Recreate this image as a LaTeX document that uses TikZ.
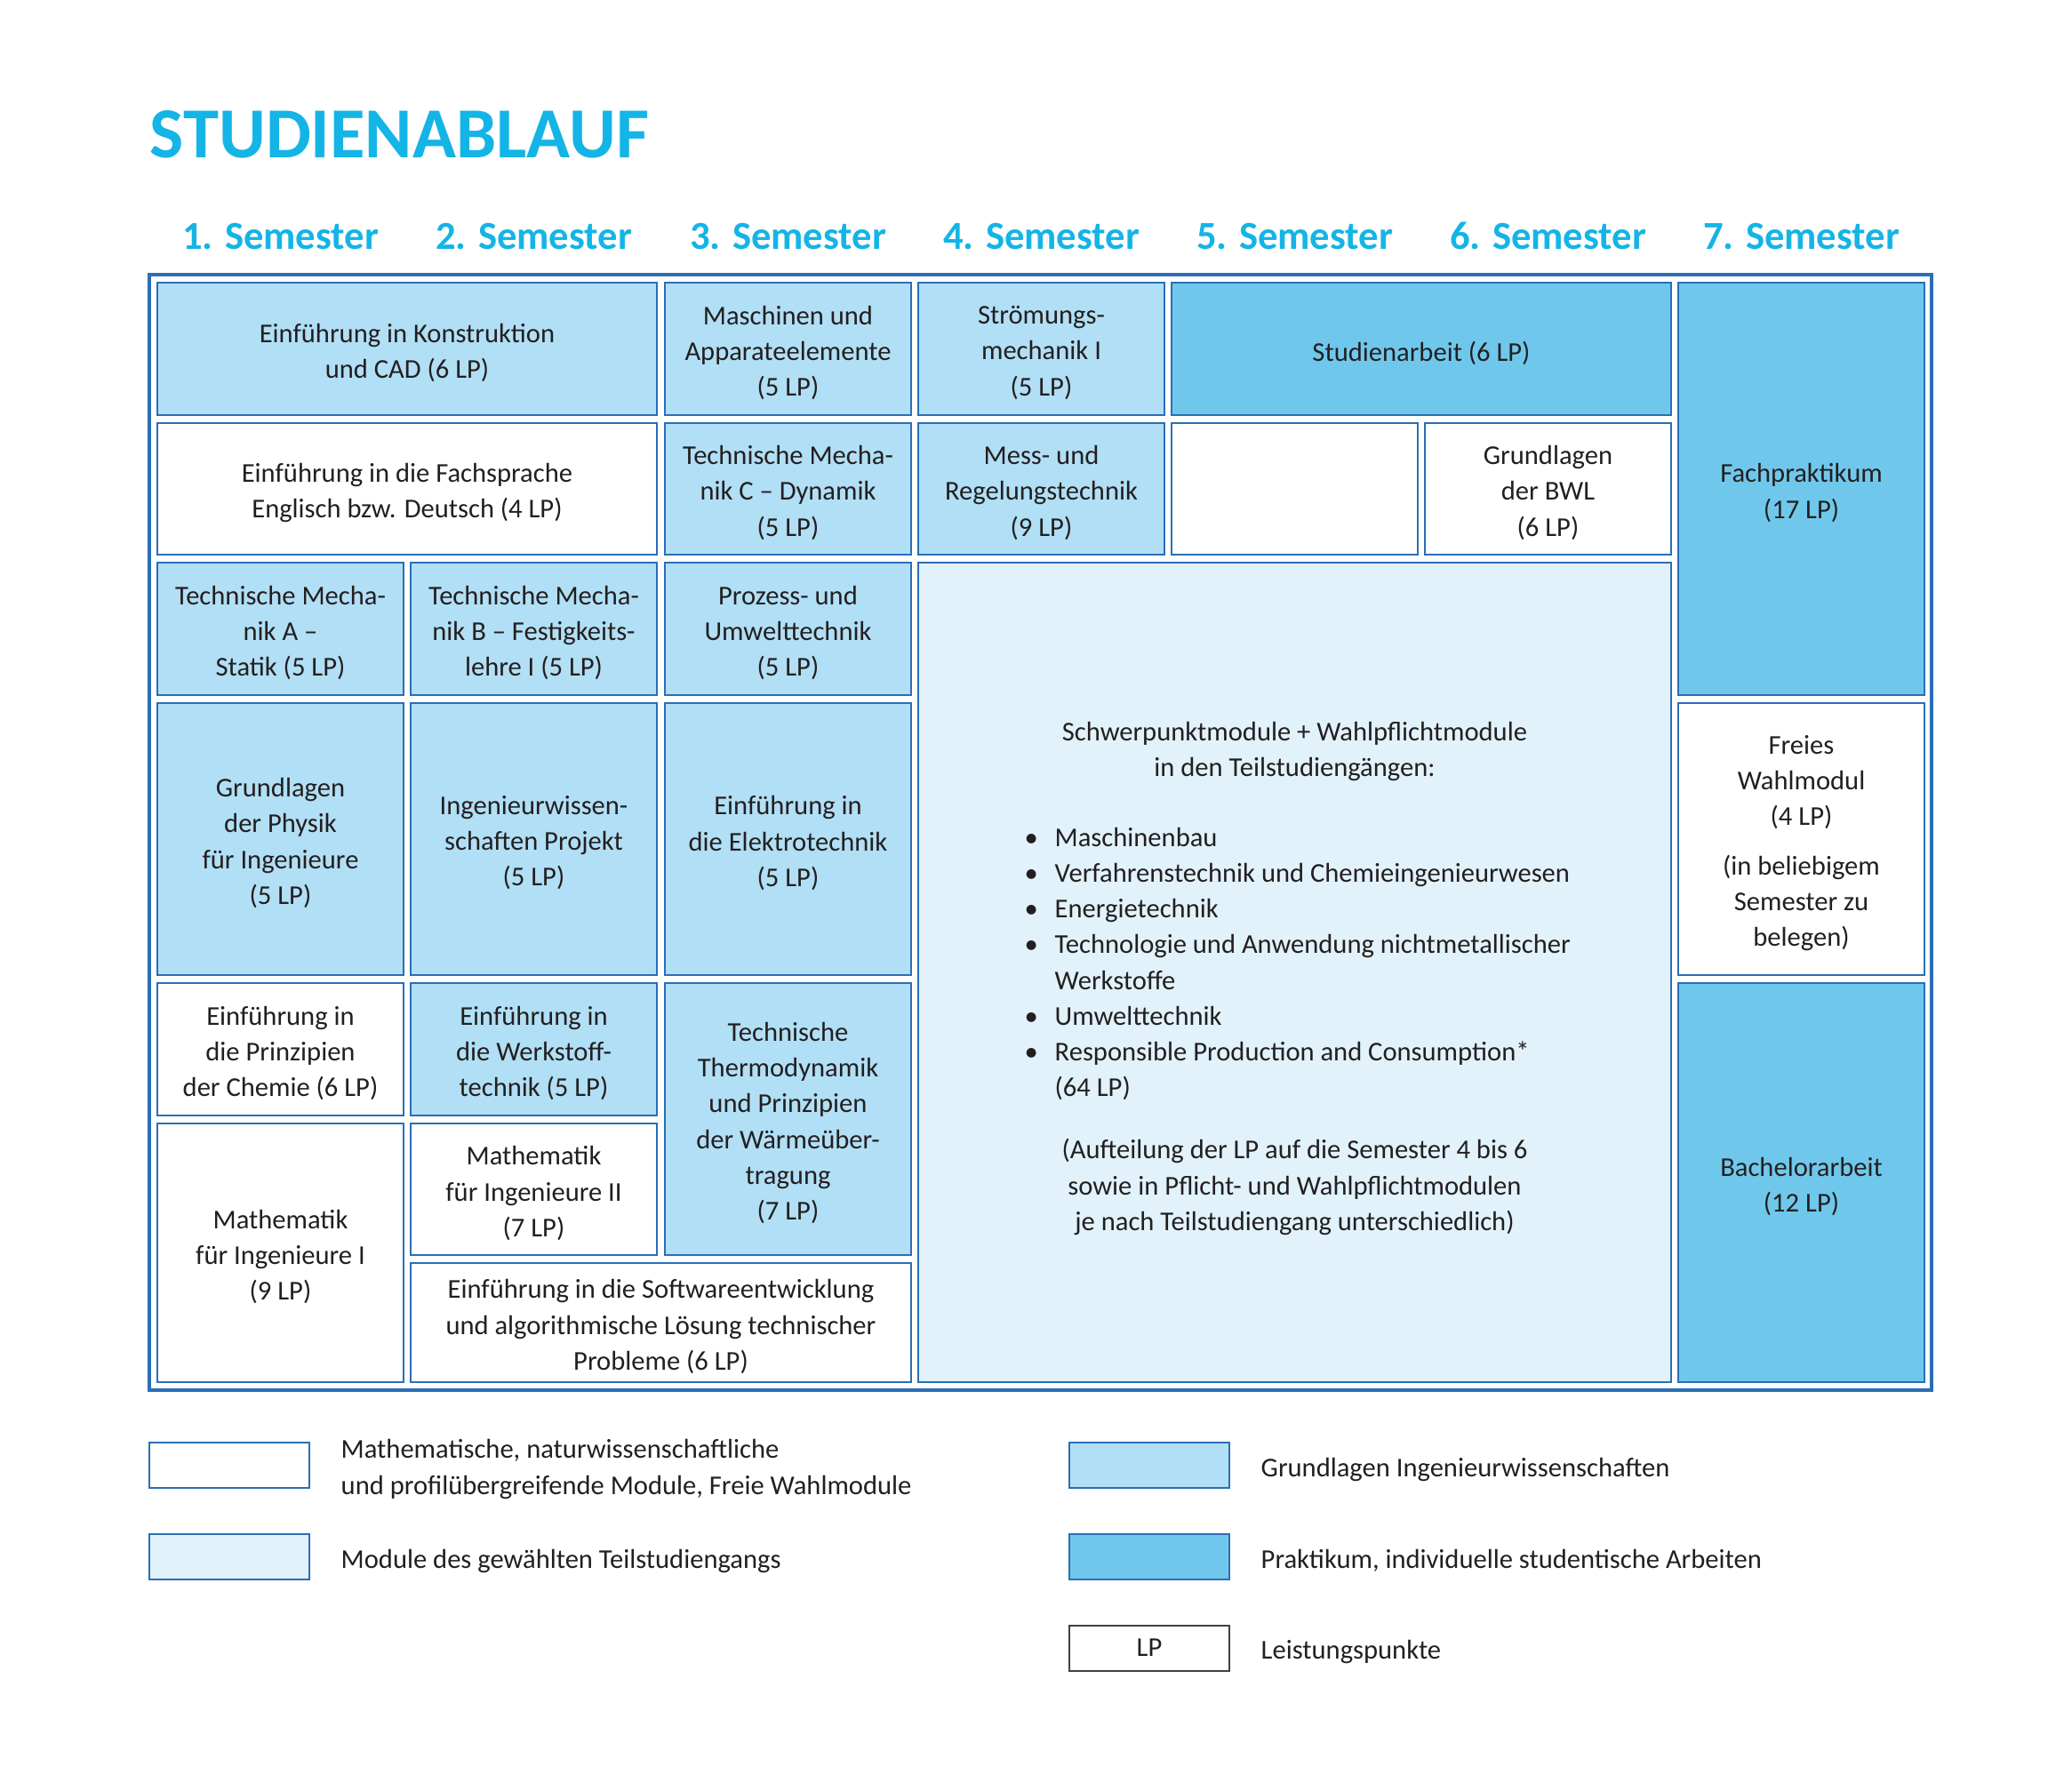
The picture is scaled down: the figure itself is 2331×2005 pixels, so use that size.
\documentclass[tikz,border=0pt]{standalone}
\usepackage{fontspec}
\setmainfont{Carlito}
\usepackage{xcolor}
\usepackage{tikz}
\usetikzlibrary{positioning}

\definecolor{rahmenblau}{HTML}{2A6EB7}
\definecolor{grundblau}{HTML}{B1DFF5}
\definecolor{praktblau}{HTML}{6FC8EC}
\definecolor{teilblau}{HTML}{E1F2FA}
\definecolor{titelcyan}{HTML}{14B4E6}
\definecolor{schrift}{HTML}{231F20}

\newcommand{\modfont}{\fontsize{8.7pt}{11.4pt}\selectfont}
\newcommand{\semfont}{\fontsize{12.7pt}{14pt}\selectfont\bfseries}
\newcommand{\titelfont}{\fontsize{23pt}{24pt}\selectfont\bfseries}
\newcommand{\bul}{\makebox[3.4mm][l]{\textbullet}}

\tikzset{
    modbox/.style={draw=rahmenblau, line width=0.2mm},
    grund/.style={modbox, fill=grundblau},
    prakt/.style={modbox, fill=praktblau},
    teil/.style={modbox, fill=teilblau},
    allg/.style={modbox, fill=white},
    mitte/.style={midway, yshift=-0.45mm},
    semkopf/.style={font=\semfont, text=titelcyan, anchor=base, inner sep=0},
    legbox/.style={minimum width=18mm, minimum height=5.1mm, inner sep=0},
    legtext/.style={align=left, inner sep=0, right=3.4mm of #1, yshift=-0.45mm}
}

\begin{document}
\begin{tikzpicture}[x=0.1mm, y=-0.1mm, every node/.style={font=\modfont, text=schrift, align=center}]
    \useasboundingbox (0,0) rectangle (2331,2005);

    % Titel und Semester
    \node[font=\titelfont, text=titelcyan, anchor=base west, inner sep=0] (titel) at (168,178) {STUDIENABLAUF};
    \foreach \i/\x in {1/315.5, 2/600.5, 3/886.5, 4/1171.5, 5/1456.5, 6/1741.5, 7/2026.5}
        \node[semkopf] (sem\i) at (\x,281) {\i. Semester};

    \draw[rahmenblau, line width=0.35mm] (168,309) rectangle (2173,1564);

    % Zeile 1
    \draw[grund] (177,318) rectangle (739,467) node[mitte] (konstr) {Einführung in Konstruktion\\und CAD (6 LP)};
    \draw[grund] (748,318) rectangle (1025,467) node[mitte] (maschinen) {Maschinen und\\Apparateelemente\\(5 LP)};
    \draw[grund] (1033,318) rectangle (1310,467) node[mitte] (stroemung) {Strömungs-\\mechanik I\\(5 LP)};
    \draw[prakt] (1318,318) rectangle (1880,467) node[mitte] (studienarbeit) {Studienarbeit (6 LP)};
    \draw[prakt] (1888,318) rectangle (2165,782) node[mitte] (fachpraktikum) {Fachpraktikum\\(17 LP)};

    % Zeile 2
    \draw[allg] (177,476) rectangle (739,624) node[mitte] (fachsprache) {Einführung in die Fachsprache\\Englisch bzw. Deutsch (4 LP)};
    \draw[grund] (748,476) rectangle (1025,624) node[mitte] (tmC) {Technische Mecha-\\nik C – Dynamik\\(5 LP)};
    \draw[grund] (1033,476) rectangle (1310,624) node[mitte] (messreg) {Mess- und\\Regelungstechnik\\(9 LP)};
    \draw[allg] (1318,476) rectangle (1595,624);
    \draw[allg] (1603,476) rectangle (1880,624) node[mitte] (bwl) {Grundlagen\\der BWL\\(6 LP)};

    % Zeile 3
    \draw[grund] (177,633) rectangle (454,782) node[mitte] (tmA) {Technische Mecha-\\nik A –\\Statik (5 LP)};
    \draw[grund] (462,633) rectangle (739,782) node[mitte] (tmB) {Technische Mecha-\\nik B – Festigkeits-\\lehre I (5 LP)};
    \draw[grund] (748,633) rectangle (1025,782) node[mitte] (prozess) {Prozess- und\\Umwelttechnik\\(5 LP)};

    % Schwerpunkt
    \draw[teil] (1033,633) rectangle (1880,1555);
    \node[yshift=-0.45mm] (spKopf) at (1456.5,841) {Schwerpunktmodule + Wahlpflichtmodule\\in den Teilstudiengängen:};
    \node[anchor=west, align=left, inner sep=0, yshift=-0.45mm] (spListe) at (1152,1080) {\bul Maschinenbau\\
        \bul Verfahrenstechnik und Chemieingenieurwesen\\
        \bul Energietechnik\\
        \bul Technologie und Anwendung nichtmetallischer\\
        \hspace*{3.4mm}Werkstoffe\\
        \bul Umwelttechnik\\
        \bul Responsible Production and Consumption*\\
        \hspace*{3.4mm}(64 LP)};
    \node[yshift=-0.45mm] (spNotiz) at (1456.5,1331) {(Aufteilung der LP auf die Semester 4 bis 6\\sowie in Pflicht- und Wahlpflichtmodulen\\je nach Teilstudiengang unterschiedlich)};

    % Zeile 4
    \draw[grund] (177,791) rectangle (454,1097) node[mitte] (physik) {Grundlagen\\der Physik\\für Ingenieure\\(5 LP)};
    \draw[grund] (462,791) rectangle (739,1097) node[mitte] (ingprojekt) {Ingenieurwissen-\\schaften Projekt\\(5 LP)};
    \draw[grund] (748,791) rectangle (1025,1097) node[mitte] (elektro) {Einführung in\\die Elektrotechnik\\(5 LP)};
    \draw[allg] (1888,791) rectangle (2165,1097) node[mitte] (wahlmodul) {Freies\\Wahlmodul\\(4 LP)\\[1.6mm](in beliebigem\\Semester zu\\belegen)};

    % Zeile 5 bis 7
    \draw[allg] (177,1106) rectangle (454,1255) node[mitte] (chemie) {Einführung in\\die Prinzipien\\der Chemie (6 LP)};
    \draw[grund] (462,1106) rectangle (739,1255) node[mitte] (werkstoff) {Einführung in\\die Werkstoff-\\technik (5 LP)};
    \draw[grund] (748,1106) rectangle (1025,1412) node[mitte] (thermo) {Technische\\Thermodynamik\\und Prinzipien\\der Wärmeüber-\\tragung\\(7 LP)};
    \draw[prakt] (1888,1106) rectangle (2165,1555) node[mitte] (bachelor) {Bachelorarbeit\\(12 LP)};
    \draw[allg] (177,1264) rectangle (454,1555) node[mitte] (matheI) {Mathematik\\für Ingenieure I\\(9 LP)};
    \draw[allg] (462,1264) rectangle (739,1412) node[mitte] (matheII) {Mathematik\\für Ingenieure II\\(7 LP)};
    \draw[allg] (462,1421) rectangle (1025,1555) node[mitte] (software) {Einführung in die Softwareentwicklung\\und algorithmische Lösung technischer\\Probleme (6 LP)};

    % Legende
    \node[allg, legbox] (legAllg) at (258,1648.5) {};
    \node[legtext=legAllg] (legAllgText) {Mathematische, naturwissenschaftliche\\und profilübergreifende Module, Freie Wahlmodule};
    \node[teil, legbox] (legTeil) at (258,1751.5) {};
    \node[legtext=legTeil] (legTeilText) {Module des gewählten Teilstudiengangs};
    \node[grund, legbox] (legGrund) at (1293,1648.5) {};
    \node[legtext=legGrund] (legGrundText) {Grundlagen Ingenieurwissenschaften};
    \node[prakt, legbox] (legPrakt) at (1293,1751.5) {};
    \node[legtext=legPrakt] (legPraktText) {Praktikum, individuelle studentische Arbeiten};
    \node[draw=black!75, line width=0.2mm, fill=white, legbox] (legLP) at (1293,1854) {LP};
    \node[legtext=legLP] (legLPText) {Leistungspunkte};
\end{tikzpicture}
\end{document}
